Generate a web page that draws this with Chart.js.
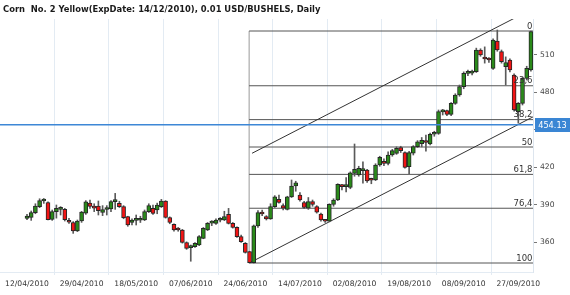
<!DOCTYPE html>
<html><head><meta charset="utf-8">
<script src="https://cdn.jsdelivr.net/npm/chart.js@4.4.1/dist/chart.umd.min.js"></script>
<style>html,body{margin:0;padding:0;background:#fff;}canvas{display:block;}</style>
</head><body>
<canvas id="c" width="570" height="295"></canvas>
<script>
const chartTitle = 'Corn  No. 2 Yellow(ExpDate: 14/12/2010), 0.01 USD/BUSHELS, Daily';
const xTickIdx = [0,13,26,39,52,65,78,91,104,117];
const xTickLabels = ['12/04/2010','29/04/2010','18/05/2010','07/06/2010','24/06/2010','14/07/2010','02/08/2010','19/08/2010','08/09/2010','27/09/2010'];
const yTicks = [360,390,420,450,480,510];

const opens = [
379.3,380.1,383.9,388.7,393.2,392,378.5,384.7,386.5,386.5,
377.4,376,369.2,377.2,383.5,391.5,388.5,389.2,384,386.4,
386.8,392.7,391.3,388.7,380.7,376,377.7,377.8,378,384.7,
387.3,386,388.7,393.2,380,374.5,371.3,370,360,355.9,
356.7,358,363.3,370,375.5,375.3,377.8,378,382.5,375.3,
372.1,364.7,359.3,352.7,343.9,373.3,383.9,380.7,378.8,388.7,
394.5,389.5,386.5,396.5,405.2,398,392,387.5,392.7,388.7,
382.8,377.5,377,390.5,394,405.8,404.7,404,415.3,414,
417.5,418,410.3,410,422,424.7,423.3,430,431.3,436,
431.9,420.7,431.5,436.7,439,440.8,438.8,446.6,447.3,464.5,
465.5,462.5,471.3,478,484.7,495.3,495.5,496.7,514,507.9,
506.2,499.3,521.2,512.7,500.7,506,494,464.7,471.3,491.3,
498];
const closes = [
381.2,383.9,389.2,393.5,394.5,378.3,384.7,387.3,387.2,378.3,
376.2,369.2,377.2,384.4,392.5,388.8,387.5,385.5,386.3,386.9,
392.7,394,388.7,379.9,374,378,378.2,378.3,384.7,389.5,
383.3,390,393.2,380,376,370,370,360.1,355.3,356.6,
359.3,364.7,371.3,375.3,376.3,378,378.3,380.7,375.3,372.1,
364.7,360.7,352.1,343.9,373.3,383.9,382.8,378.8,388.7,396.5,
392,387.5,396.5,405.2,407.8,394,388,392.7,390.5,384.2,
378,377,390.5,394,406.5,404.7,405,415.8,418.5,419.3,
418.3,409.2,409.8,422,428.1,423.3,430,433.5,435.3,433.5,
420.1,431.9,436.7,440.5,441.8,440,446.6,447.8,464.7,465,
462.5,471.3,478,484.7,495.3,495.8,496.8,514,510,506.8,
506,522,514,504.7,504,498,466,471.3,491.3,499.3,
528.7];
const highs = [
382.5,385.2,391,395,395.2,392.5,386,390,388.7,387.3,
379.3,376.7,378,384.9,393.5,394,391,393.2,389.5,389.5,
393.5,399.3,393,389.5,381,379,382,381,386,391,
390,391.5,394.5,393.5,380.5,375,372,370.5,360.5,358,
360,365.5,372,376,377.5,379,380,385,387.3,376,
372.5,366,360,353,374,385.5,386,381.5,391,397.5,
398,391,397,410,409,400,393,396,394,389.5,
383.5,378.5,391,395,407,406.5,412,416.5,438.8,421,
424.5,418.5,411.5,423,429,427,432.5,434.5,436.5,437,
432.5,433,437.5,441.5,444,446,447.5,449,466,466.5,
466,472,479,486,496.5,498,498,515.5,515,516.5,
508,523,530,514,508.5,507,495,472,492,501,
529.2];
const lows = [
378.3,377.7,383,387.9,391.3,378,377.7,379.5,382,377.2,
375.3,367.3,368.7,376.1,382.5,387.3,384.7,382,381.5,382,
384.7,386.5,388,379,373,374,374,376,377.5,384,
382.5,383,388,379.5,375,369,369,359.5,354.5,345,
356,357.5,363,369.5,373.5,374.5,376.5,377.5,374.8,371.5,
364,360,351.5,343.6,343.6,372,381.5,378,378.5,388,
391.5,386,386,396,401,393,387,386.5,389,383.5,
377,376,376.5,389,393.5,402,400.5,403,413,413,
407.5,408,407,409.5,421,421.5,422,429,430.5,432,
419.5,415,430,436,436.5,433,438,445,446.5,462,
461.5,461.5,470.5,477,483,493.5,494,496,509,503.5,
504,498.5,513,503.5,486,496.5,465,455.5,470,490,
497];

const fibHigh = 529.2, fibLow = 343.6, fibStart = 52.9;
const fibLevels = [0,23.6,38.2,50,61.8,76.4,100];
const fibLabels = ['0','23,6','38,2','50','61,8','76,4','100'];
const channelLower = [{x:53.1,y:343.9},{x:120.5,y:460.5}];
const channelUpper = [{x:53.6,y:431.4},{x:120.5,y:547.1}];
const lastPrice = 454.13;
const xMin = -6.43, xMax = 120.5, yMin = 336.4, yMax = 538.8;

Chart.defaults.font.family = '"DejaVu Sans", sans-serif';

const idx = opens.map((_, i) => i);
const wickData = idx.map(i => ({x: i, y: [lows[i], highs[i]]}));
const bodyData = idx.map(i => ({x: i, y: [Math.min(opens[i], closes[i]), Math.max(opens[i], closes[i])]}));
const bodyColors = idx.map(i => closes[i] >= opens[i] ? '#2a8a1a' : '#f21414');

const lineDs = (data, color, width, order) => ({
  type: 'line', data, borderColor: color, borderWidth: width, pointRadius: 0,
  fill: false, tension: 0, order
});

const fibValue = l => fibHigh - l / 100 * (fibHigh - fibLow);
const fibDatasets = fibLevels.map(l => lineDs([{x: fibStart, y: fibValue(l)}, {x: xMax, y: fibValue(l)}], '#555', 1, 6));

const overlay = {
  id: 'overlay',
  afterDatasetsDraw(chart) {
    const {ctx, chartArea, scales: {y}} = chart;
    ctx.save();
    ctx.font = '8.5px "DejaVu Sans"';
    ctx.fillStyle = '#333';
    ctx.textAlign = 'right';
    ctx.textBaseline = 'alphabetic';
    fibLevels.forEach((l, k) => {
      ctx.fillText(fibLabels[k], chartArea.right - 0.5, y.getPixelForValue(fibValue(l)) - 2.5);
    });
    ctx.restore();
  },
  afterDraw(chart) {
    const {ctx, chartArea, scales: {y}} = chart;
    ctx.save();
    let size = 9;
    ctx.font = 'bold ' + size + 'px "DejaVu Sans"';
    const w = ctx.measureText(chartTitle).width;
    size = size * 318 / w;
    ctx.font = 'bold ' + size.toFixed(2) + 'px "DejaVu Sans"';
    ctx.fillStyle = '#1a1a1a';
    ctx.textAlign = 'left';
    ctx.textBaseline = 'middle';
    ctx.fillText(chartTitle, 3, 9.5);
    const py = y.getPixelForValue(lastPrice);
    ctx.fillStyle = '#3a86d4';
    ctx.fillRect(chartArea.right + 2, Math.round(py) - 7, 570 - chartArea.right - 2, 14);
    ctx.fillStyle = '#ffffff';
    ctx.font = '8.2px "DejaVu Sans"';
    ctx.textAlign = 'center';
    ctx.fillText(lastPrice.toFixed(2), (chartArea.right + 2 + 570) / 2, Math.round(py) + 0.5);
    ctx.restore();
  }
};

new Chart(document.getElementById('c'), {
  type: 'bar',
  data: {
    datasets: [
      {type: 'bar', data: bodyData, backgroundColor: bodyColors, borderColor: '#262626', borderWidth: 1,
       borderSkipped: false, barThickness: 4, minBarLength: 2, grouped: false, order: 0},
      {type: 'bar', data: wickData, backgroundColor: '#5a5a5a', borderWidth: 0,
       barThickness: 1, grouped: false, order: 1},
      ...fibDatasets,
      lineDs([{x: fibStart, y: fibLow}, {x: fibStart, y: fibHigh}], '#9a9a9a', 1, 7),
      lineDs(channelLower, '#333', 1, 5),
      lineDs(channelUpper, '#333', 1, 5),
      lineDs([{x: xMin, y: lastPrice}, {x: xMax, y: lastPrice}], '#3d87d6', 1.5, -1)
    ]
  },
  options: {
    responsive: false, animation: false, devicePixelRatio: 1,
    layout: {padding: {top: 19, left: 0, right: 0, bottom: 0}},
    plugins: {legend: {display: false}, tooltip: {enabled: false}, title: {display: false}},
    scales: {
      x: {
        type: 'linear', min: xMin, max: xMax, offset: false,
        afterBuildTicks: s => { s.ticks = xTickIdx.map(v => ({value: v})); },
        afterFit: s => { s.height = 23; },
        ticks: {autoSkip: false, maxRotation: 0, padding: 4, color: '#333',
                font: {size: 7.6}, callback: (v, i) => xTickLabels[i]},
        grid: {color: '#e3ebf3', tickLength: 3, tickColor: '#e3ebf3'},
        border: {display: true, color: '#e3ebf3'}
      },
      y: {
        position: 'right', min: yMin, max: yMax,
        afterBuildTicks: s => { s.ticks = yTicks.map(v => ({value: v})); },
        afterFit: s => { s.width = 37; },
        ticks: {padding: 3, color: '#444', font: {size: 7.6}},
        grid: {drawOnChartArea: false, tickLength: 4, tickColor: '#777', color: '#777'},
        border: {display: true, color: '#dde5ee'}
      }
    }
  },
  plugins: [overlay]
});
</script>
</body></html>
